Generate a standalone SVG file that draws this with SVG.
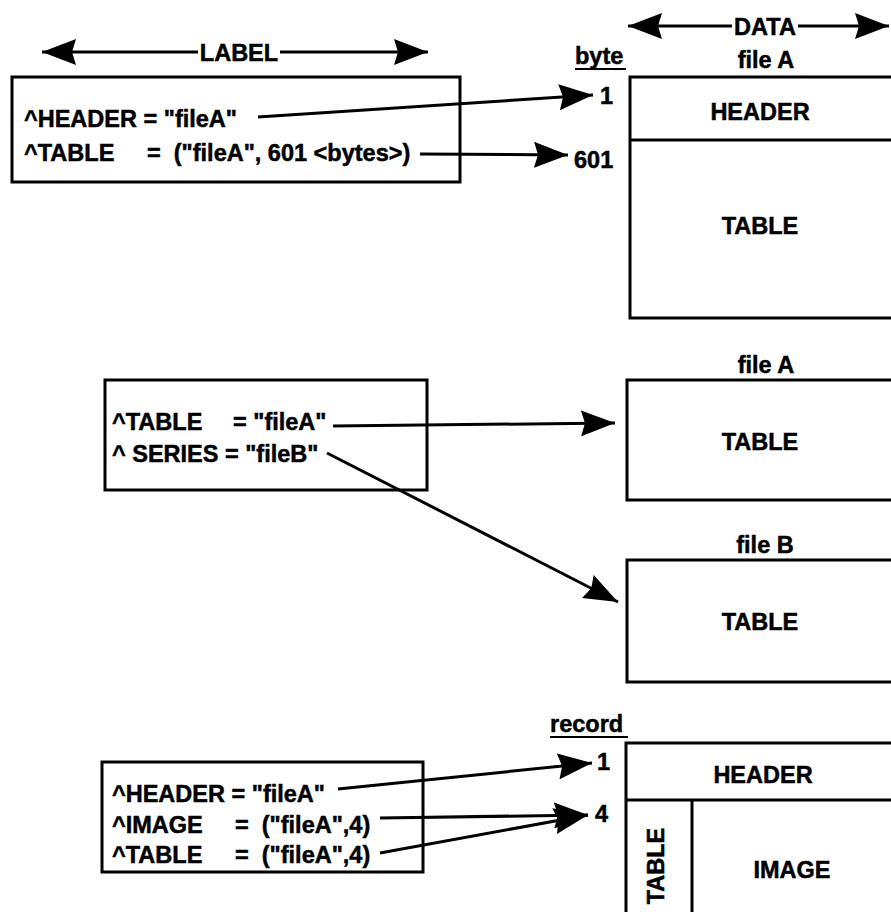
<svg xmlns="http://www.w3.org/2000/svg" width="891" height="912" viewBox="0 0 891 912">
<style>
text{font-family:"Liberation Sans",Arial,Helvetica,sans-serif;font-weight:bold;fill:#000;stroke:#000;stroke-width:0.5;white-space:pre}
.t{font-size:23.5px}
.c{text-anchor:middle}
.box{fill:none;stroke:#000;stroke-width:3}
.ln{fill:none;stroke:#000;stroke-width:3}
.u{stroke:#000;stroke-width:2}
</style>
<defs>
<marker id="ah" viewBox="0 0 34 26" refX="34" refY="13" markerWidth="34" markerHeight="26" markerUnits="userSpaceOnUse" orient="auto-start-reverse">
<path d="M0,0 L34,13 L0,26 L4,13 z" fill="#000"/>
</marker>
</defs>
<rect width="891" height="912" fill="#fff"/>

<g id="label-dim">
<line class="ln" x1="198" y1="52" x2="42" y2="52" marker-end="url(#ah)"/>
<line class="ln" x1="280" y1="52" x2="428" y2="52" marker-end="url(#ah)"/>
<text class="t c" x="239" y="61">LABEL</text>
</g>
<g id="data-dim">
<line class="ln" x1="732" y1="26" x2="628" y2="26" marker-end="url(#ah)"/>
<line class="ln" x1="798" y1="26" x2="889" y2="26" marker-end="url(#ah)"/>
<text class="t c" x="765" y="35">DATA</text>
</g>

<g id="label1">
<rect class="box" x="12" y="77" width="448" height="105"/>
<text class="t" x="24" y="127">^HEADER = "fileA"</text>
<text class="t" x="24" y="161">^TABLE</text>
<text class="t" x="147" y="161">=  ("fileA", 601 &lt;bytes&gt;)</text>
</g>

<g id="fileA1">
<text class="t c" x="766" y="68">file A</text>
<text class="t" x="575" y="64">byte</text>
<line class="u" x1="575" y1="69" x2="626" y2="69"/>
<text class="t" x="600" y="104">1</text>
<text class="t" x="574" y="168">601</text>
<path class="box" d="M893,77 H630 V318 H893"/>
<line class="ln" x1="630" y1="140" x2="893" y2="140"/>
<text class="t c" x="760" y="120">HEADER</text>
<text class="t c" x="760" y="234">TABLE</text>
</g>

<g id="label2">
<rect class="box" x="105" y="380" width="322" height="110"/>
<text class="t" x="112" y="430">^TABLE</text>
<text class="t" x="233" y="430">= "fileA"</text>
<text class="t" x="112" y="462">^ SERIES = "fileB"</text>
</g>

<g id="fileA2">
<text class="t c" x="766" y="373">file A</text>
<path class="box" d="M893,380 H627 V500 H893"/>
<text class="t c" x="760" y="450">TABLE</text>
</g>

<g id="fileB">
<text class="t c" x="765" y="553">file B</text>
<path class="box" d="M893,560 H627 V682 H893"/>
<text class="t c" x="760" y="630">TABLE</text>
</g>

<g id="label3">
<rect class="box" x="102" y="762" width="321" height="110"/>
<text class="t" x="112" y="802">^HEADER = "fileA"</text>
<text class="t" x="112" y="833">^IMAGE</text>
<text class="t" x="235" y="833">=  ("fileA",4)</text>
<text class="t" x="112" y="863">^TABLE</text>
<text class="t" x="235" y="863">=  ("fileA",4)</text>
</g>

<g id="fileA3">
<text class="t" x="550" y="732">record</text>
<line class="u" x1="550" y1="737" x2="628" y2="737"/>
<text class="t" x="597" y="770">1</text>
<text class="t" x="595" y="822">4</text>
<path class="box" d="M893,743 H626 V914"/>
<line class="ln" x1="626" y1="800" x2="893" y2="800"/>
<line class="ln" x1="692" y1="800" x2="692" y2="914"/>
<text class="t c" x="763" y="783">HEADER</text>
<text class="t c" x="792" y="878">IMAGE</text>
<text class="t c" transform="translate(664,866) rotate(-90)" x="0" y="0">TABLE</text>
</g>

<g id="connectors">
<line class="ln" x1="258" y1="117" x2="593" y2="95" marker-end="url(#ah)"/>
<line class="ln" x1="420" y1="154" x2="568" y2="155" marker-end="url(#ah)"/>
<line class="ln" x1="333" y1="426" x2="615" y2="423" marker-end="url(#ah)"/>
<line class="ln" x1="327" y1="453" x2="618" y2="602" marker-end="url(#ah)"/>
<line class="ln" x1="338" y1="789" x2="592" y2="763" marker-end="url(#ah)"/>
<line class="ln" x1="380" y1="818" x2="588" y2="815" marker-end="url(#ah)"/>
<line class="ln" x1="380" y1="853" x2="588" y2="815" marker-end="url(#ah)"/>
</g>
</svg>
